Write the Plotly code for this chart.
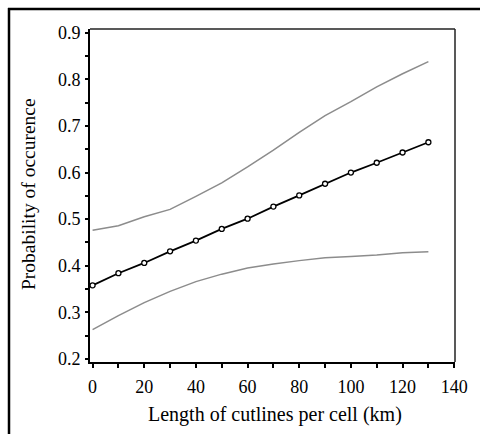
import plotly.graph_objects as go

length_km = [0, 10, 20, 30, 40, 50, 60, 70, 80, 90, 100, 110, 120, 130]
prob_mean = [0.358, 0.384, 0.406, 0.431, 0.454, 0.479, 0.501, 0.527, 0.551, 0.576, 0.600, 0.621, 0.643, 0.665]
prob_upper = [0.476, 0.486, 0.505, 0.521, 0.549, 0.578, 0.612, 0.648, 0.686, 0.722, 0.752, 0.784, 0.812, 0.838]
prob_lower = [0.263, 0.293, 0.321, 0.345, 0.366, 0.382, 0.395, 0.404, 0.411, 0.417, 0.420, 0.423, 0.428, 0.430]

x_ticks = [0, 20, 40, 60, 80, 100, 120, 140]
y_ticks = [0.2, 0.3, 0.4, 0.5, 0.6, 0.7, 0.8, 0.9]

FONT = "Liberation Serif, Times New Roman, serif"

fig = go.Figure()
fig.add_trace(go.Scatter(x=length_km, y=prob_upper, mode="lines",
                         line=dict(color="#8c8c8c", width=1.5), showlegend=False))
fig.add_trace(go.Scatter(x=length_km, y=prob_lower, mode="lines",
                         line=dict(color="#8c8c8c", width=1.5), showlegend=False))
fig.add_trace(go.Scatter(x=length_km, y=prob_mean, mode="lines+markers",
                         line=dict(color="black", width=1.8),
                         marker=dict(symbol="circle", size=5, color="white",
                                     line=dict(color="black", width=1.3)),
                         showlegend=False))

L, R, T, B = 90, 25, 29, 72
W, H = 480, 434
pw, ph = W - L - R, H - T - B

def px(xp):
    return (xp - L) / pw

def py(yp):
    return (H - B - yp) / ph

fig.update_layout(
    width=W, height=H,
    margin=dict(l=L, r=R, t=T, b=B),
    paper_bgcolor="white", plot_bgcolor="white",
    font=dict(family=FONT, color="black", size=18),
    xaxis=dict(range=[-1, 140.3], tickvals=x_ticks, ticks="outside", ticklen=4,
               tickwidth=1.5, tickcolor="black",
               showline=True, linecolor="black", linewidth=2, showgrid=False,
               zeroline=False, ticklabelstandoff=3,
               minor=dict(dtick=10, tick0=0, ticks="outside", ticklen=4, tickwidth=1.5, tickcolor="black")),
    yaxis=dict(range=[0.1935, 0.908], tickvals=y_ticks, ticks="outside", ticklen=3,
               tickwidth=1.5, tickcolor="black",
               showline=True, linecolor="black", linewidth=2, showgrid=False,
               zeroline=False, ticklabelstandoff=1,
               minor=dict(dtick=0.05, tick0=0.2, ticks="outside", ticklen=3, tickwidth=1.5, tickcolor="black")),
    annotations=[
        dict(text="Length of cutlines per cell (km)", xref="paper", yref="paper",
             x=px(274.5), y=py(414), xanchor="center", yanchor="middle",
             showarrow=False, font=dict(size=20)),
        dict(text="Probability of occurence", xref="paper", yref="paper",
             x=px(28), y=py(194), xanchor="center", yanchor="middle", textangle=-90,
             showarrow=False, font=dict(size=19.5)),
    ],
    shapes=[
        # outer frame (top and left)
        dict(type="line", xref="paper", yref="paper", x0=px(8), x1=px(482), y0=py(9), y1=py(9),
             line=dict(color="black", width=2.5)),
        dict(type="line", xref="paper", yref="paper", x0=px(9), x1=px(9), y0=py(8), y1=py(436),
             line=dict(color="black", width=2.5)),
        # plot frame top and right
        dict(type="line", xref="paper", yref="paper", x0=0, x1=1, y0=1, y1=1,
             line=dict(color="#222", width=1.5)),
        dict(type="line", xref="paper", yref="paper", x0=1, x1=1, y0=0, y1=1,
             line=dict(color="#222", width=1.5)),
    ],
)

fig.write_html("out.html")
